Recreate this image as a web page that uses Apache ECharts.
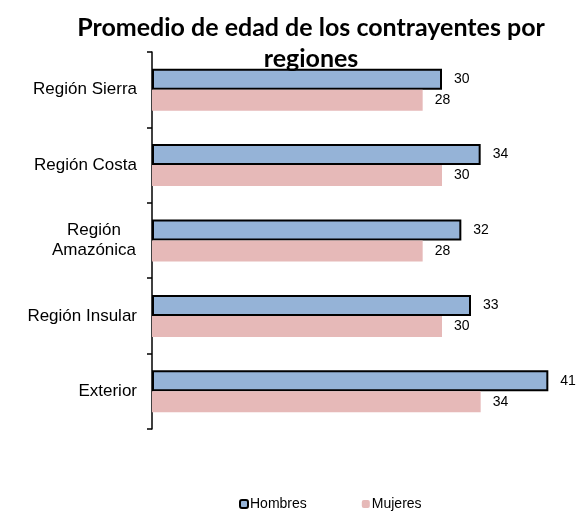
<!DOCTYPE html>
<html>
<head>
<meta charset="utf-8">
<script src="https://cdn.jsdelivr.net/npm/echarts@6/dist/echarts.min.js"></script>
<style>
  html, body { margin: 0; padding: 0; background: #fff; }
  #main { width: 580px; height: 512px; }
</style>
</head>
<body>
<div id="main"></div>
<script>
// datos del gráfico
const categories = ['Región Sierra', 'Región Costa', 'Región\nAmazónica', 'Región Insular', 'Exterior']
const hombres = [30, 34, 32, 33, 41]
const mujeres = [28, 30, 28, 30, 34]

const chartDom = document.getElementById('main')
const myChart = echarts.init(chartDom)

const labelOption = {
  show: true,
  position: 'right',
  distance: 12,
  color: '#000',
  fontFamily: 'Liberation Sans',
  fontSize: 14,
}

const option = {
  animation: false,
  title: {
    text: 'Promedio de edad de los contrayentes por\nregiones',
    left: 311,
    textAlign: 'center',
    top: 12,
    padding: 0,
    textStyle: {
      fontFamily: 'Lato',
      fontWeight: 'bold',
      fontSize: 25,
      lineHeight: 31,
      color: '#000',
    },
  },
  legend: {
    data: ['Hombres', 'Mujeres'],
    left: 239,
    top: 497,
    padding: 0,
    itemWidth: 8,
    itemHeight: 8,
    itemGap: 55,
    textStyle: { fontFamily: 'Liberation Sans', fontSize: 14, color: '#000', padding: [0, 0, 0, -3] },
  },
  grid: {
    left: 152,
    right: 22,
    top: 52,
    height: 377,
  },
  xAxis: {
    type: 'value',
    min: 0,
    max: 42,
    show: false,
  },
  yAxis: {
    type: 'category',
    inverse: true,
    data: categories,
    axisLine: { lineStyle: { color: '#000', width: 1.5 } },
    axisTick: { show: true, interval: 0, length: 5, lineStyle: { color: '#000', width: 1.5 } },
    axisLabel: {
      margin: 15,
      color: '#000',
      fontFamily: 'Liberation Sans',
      fontSize: 17,
      lineHeight: 20,
      formatter: function (value) {
        if (value.indexOf('\n') < 0) return value
        return value.split('\n').map(function (s) { return '{c|' + s + '}' }).join('\n')
      },
      rich: {
        c: { width: 86, align: 'center', fontSize: 17, lineHeight: 20, fontFamily: 'Liberation Sans', color: '#000' },
      },
    },
  },
  series: [
    {
      name: 'Hombres',
      type: 'bar',
      barWidth: 21,
      barGap: 0,
      itemStyle: { color: '#95B3D7', borderColor: '#000', borderWidth: 2 },
      label: labelOption,
      data: hombres,
    },
    {
      name: 'Mujeres',
      type: 'bar',
      barWidth: 21,
      barGap: 0,
      itemStyle: { color: '#E6B9B8' },
      label: labelOption,
      data: mujeres,
    },
  ],
}

myChart.setOption(option)
</script>
</body>
</html>
